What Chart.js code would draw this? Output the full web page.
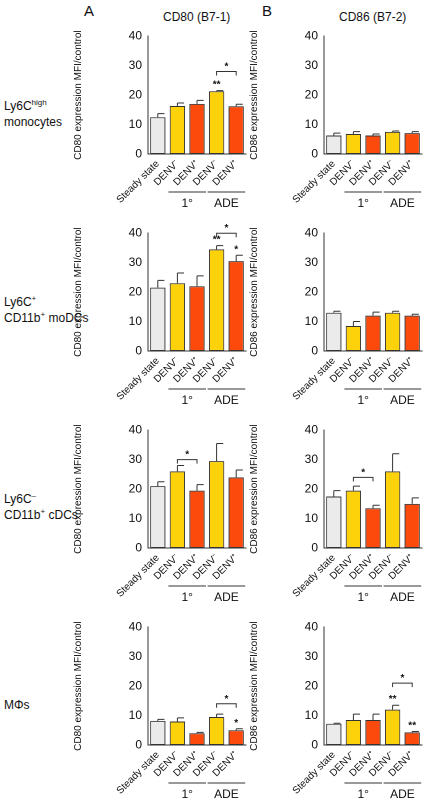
<!DOCTYPE html>
<html><head><meta charset="utf-8">
<script src="https://cdn.jsdelivr.net/npm/chart.js@4"></script>
<style>
body{margin:0;background:#fff;font-family:"Liberation Sans",Arial,sans-serif;}
#wrap{position:relative;width:432px;height:800px;}
canvas{position:absolute;}
.t{position:absolute;font-size:12px;color:#111;white-space:nowrap;}
.big{font-size:15px;}
</style></head><body>
<div id="wrap">
<div class="t big" style="left:84px;top:2px">A</div>
<div class="t big" style="left:262px;top:2px">B</div>
<div class="t" style="left:163px;top:10px">CD80 (B7-1)</div>
<div class="t" style="left:339px;top:10px">CD86 (B7-2)</div>
<div class="t" style="left:4px;top:98px;line-height:16px">Ly6C<sup style="font-size:8px;line-height:0">high</sup><br>monocytes</div>
<div class="t" style="left:4px;top:294px;line-height:16px">Ly6C<sup style="font-size:8px;line-height:0">+</sup><br>CD11b<sup style="font-size:8px;line-height:0">+</sup> moDCs</div>
<div class="t" style="left:4px;top:491px;line-height:16px">Ly6C<sup style="font-size:8px;line-height:0">–</sup><br>CD11b<sup style="font-size:8px;line-height:0">+</sup> cDCs</div>
<div class="t" style="left:4px;top:698px">MΦs</div>
</div>
<script>
const categories = ['Steady state', 'DENV⁻', 'DENV⁺', 'DENV⁻', 'DENV⁺'];
const colors = ['#ebebeb', '#fdd20a', '#fb4a0c'];
const yTicks = [0, 10, 20, 30, 40];

// mean values, error (SEM) per panel
const cd80Mono = [12.5, 16.3, 17, 21.3, 16.2];
const cd80MonoErr = [1.2, 1, 1.2, 0.2, 0.7];
const cd86Mono = [6.3, 6.8, 6.3, 7.5, 7.1];
const cd86MonoErr = [0.8, 0.8, 0.5, 0.3, 0.5];
const cd80Mo = [21.5, 23, 22, 34.5, 30.5];
const cd80MoErr = [2.5, 3.5, 3.5, 1.3, 2];
const cd86Mo = [13, 8.5, 12, 13, 12];
const cd86MoErr = [0.5, 1.5, 1.2, 0.5, 0.5];
const cd80Cdc = [21, 26, 19.5, 29.5, 24];
const cd80CdcErr = [1.5, 2, 2, 6, 2.5];
const cd86Cdc = [17.5, 19.5, 13.5, 26, 15];
const cd86CdcErr = [2, 1.5, 1, 6, 2];
const cd80Mac = [8.2, 8, 4, 9.5, 5];
const cd80MacErr = [0.5, 1.2, 0.3, 1, 0.5];
const cd86Mac = [7.2, 8.5, 8.5, 12, 4.3];
const cd86MacErr = [0.2, 2, 2, 1.5, 0.3];

const panels = [
  {vals: cd80Mono, err: cd80MonoErr, y: 27, x: 70, ax: 'CD80', stars: {3: '**'}, br: [3, 4, 28]},
  {vals: cd86Mono, err: cd86MonoErr, y: 27, x: 246, ax: 'CD86', stars: {}, br: null},
  {vals: cd80Mo, err: cd80MoErr, y: 224, x: 70, ax: 'CD80', stars: {3: '**', 4: '*'}, br: [3, 4, 40]},
  {vals: cd86Mo, err: cd86MoErr, y: 224, x: 246, ax: 'CD86', stars: {}, br: null},
  {vals: cd80Cdc, err: cd80CdcErr, y: 421, x: 70, ax: 'CD80', stars: {}, br: [1, 2, 30]},
  {vals: cd86Cdc, err: cd86CdcErr, y: 421, x: 246, ax: 'CD86', stars: {}, br: [1, 2, 24]},
  {vals: cd80Mac, err: cd80MacErr, y: 618, x: 70, ax: 'CD80', stars: {4: '*'}, br: [3, 4, 14]},
  {vals: cd86Mac, err: cd86MacErr, y: 618, x: 246, ax: 'CD86', stars: {3: '**', 4: '**'}, br: [3, 4, 21]}
];

const extras = {
  id: 'extras',
  afterDatasetsDraw(chart, args, o) {
    const ctx = chart.ctx, x = chart.scales.x, y = chart.scales.y;
    ctx.save();
    ctx.strokeStyle = '#333'; ctx.fillStyle = '#111'; ctx.lineWidth = 1;
    ctx.textAlign = 'center';
    const bw = chart.getDatasetMeta(0).data[0].width;
    o.vals.forEach((v, i) => {
      const px = x.getPixelForValue(i), top = y.getPixelForValue(v + o.err[i]);
      ctx.beginPath();
      ctx.moveTo(px, y.getPixelForValue(v)); ctx.lineTo(px, top);
      ctx.moveTo(px, top); ctx.lineTo(px + bw / 2 - 1, top);
      ctx.stroke();
      if (o.stars[i]) {
        ctx.font = 'bold 10px "Liberation Sans"';
        ctx.fillText(o.stars[i], px, top - 3);
      }
    });
    if (o.br) {
      const [a, b, v] = o.br, py = y.getPixelForValue(v);
      const xa = x.getPixelForValue(a), xb = x.getPixelForValue(b);
      ctx.beginPath();
      ctx.moveTo(xa, py + 4); ctx.lineTo(xa, py); ctx.lineTo(xb, py); ctx.lineTo(xb, py + 4);
      ctx.stroke();
      ctx.font = 'bold 10px "Liberation Sans"';
      ctx.fillText('*', (xa + xb) / 2, py - 2);
    }
    // group lines below axis
    const base = y.getPixelForValue(0);
    ctx.font = '12px "Liberation Sans"';
    [[1, 2, '1°'], [3, 4, 'ADE']].forEach(([a, b, t]) => {
      const xa = x.getPixelForValue(a) - 9, xb = x.getPixelForValue(b) + 9;
      ctx.beginPath(); ctx.moveTo(xa, base + 38); ctx.lineTo(xb, base + 38); ctx.stroke();
      ctx.fillText(t, (xa + xb) / 2, base + 53);
    });
    ctx.restore();
  }
};

const wrap = document.getElementById('wrap');
panels.forEach(p => {
  const c = document.createElement('canvas');
  c.style.left = p.x + 'px'; c.style.top = p.y + 'px';
  c.style.width = '180px'; c.style.height = '195px';
  wrap.appendChild(c);
  new Chart(c, {
    type: 'bar',
    data: {
      labels: categories,
      datasets: [{
        data: p.vals,
        backgroundColor: [colors[0], colors[1], colors[2], colors[1], colors[2]],
        borderColor: '#333', borderWidth: 1, borderSkipped: false,
        categoryPercentage: 1, barPercentage: 0.78
      }]
    },
    options: {
      responsive: false, animation: false, devicePixelRatio: 2,
      layout: {padding: {top: 8, right: 4}},
      plugins: {legend: {display: false}, tooltip: {enabled: false}, extras: p},
      scales: {
        y: {
          min: 0, max: 40,
          afterBuildTicks: s => { s.ticks = yTicks.map(v => ({value: v})); },
          afterFit: s => { s.width = 78; },
          grid: {display: false, drawTicks: true, tickLength: 4},
          border: {color: '#333'},
          ticks: {color: '#111', font: {size: 12, family: 'Liberation Sans'}, padding: 2},
          title: {display: true, text: p.ax + ' expression MFI/control', color: '#111',
                  font: {size: 10, family: 'Liberation Sans'}, padding: 2}
        },
        x: {
          afterFit: s => { s.height = 68; },
          grid: {display: false, drawTicks: true, tickLength: 4},
          border: {color: '#333'},
          ticks: {color: '#111', font: {size: 10, family: 'Liberation Sans'}, autoSkip: false,
                  minRotation: 45, maxRotation: 45, padding: 0}
        }
      }
    },
    plugins: [extras]
  });
});
</script>
</body></html>
